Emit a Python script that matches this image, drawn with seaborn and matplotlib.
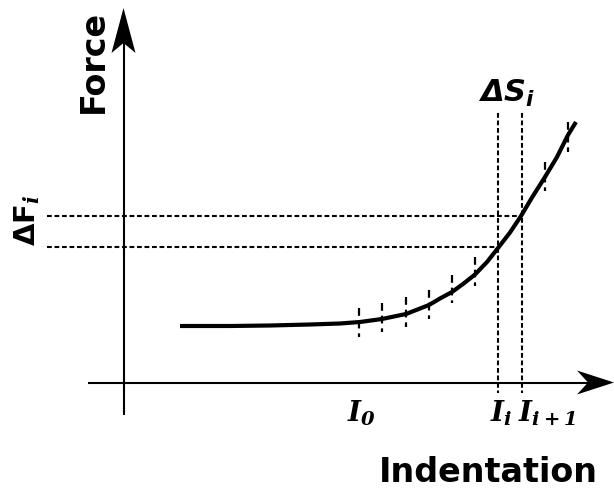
import numpy as np
import pandas as pd
import matplotlib
matplotlib.use("Agg")
import matplotlib.pyplot as plt
import seaborn as sns
from matplotlib.patches import Polygon

# ---- data (schematic units, y grows downward like the picture) ----
curve_x = [180, 230, 270, 310, 340, 360, 382, 406, 429, 440, 452, 463, 475,
           487, 498, 510, 521, 532, 545, 557, 568, 576]
curve_y = [326, 326, 325.5, 324.5, 323.5, 322, 319, 314, 305, 298.5, 292, 284, 274.5,
           262, 248, 232.5, 216, 197.5, 177, 157, 135, 122]
err_x = [359, 382, 406, 429, 452, 475, 545, 568]
err_lo = [308, 303, 297, 290, 275, 257, 162, 122]
err_hi = [337, 332, 327, 319, 303, 286, 191, 152]
step_x = [498, 522]          # I_i, I_{i+1}
step_f = [247, 216]          # force at I_i, I_{i+1}
tick_x = [347, 490, 518]     # left edge of each label
tick_labels = [r"$I_0$", r"$I_i$", r"$I_{i+1}$"]

sns.set_style("white")
plt.rcParams["font.family"] = ["DejaVu Sans"]
plt.rcParams["text.color"] = "black"
plt.rcParams["mathtext.fontset"] = "custom"
plt.rcParams["mathtext.it"] = "DejaVu Serif:italic:bold"
plt.rcParams["mathtext.rm"] = "DejaVu Serif:italic:bold"
plt.rcParams["mathtext.bf"] = "DejaVu Sans:bold"
plt.rcParams["mathtext.sf"] = "DejaVu Sans:italic:bold"

fig = plt.figure(figsize=(6.14, 5.0), dpi=100)
ax = fig.add_axes([0, 0, 1, 1])
ax.set_xlim(0, 614)
ax.set_ylim(500, 0)
ax.axis("off")

# axes with arrows
ax.plot([123.5, 123.5], [415, 40], color="black", lw=1.5, solid_capstyle="butt")
ax.add_patch(Polygon([(123.5, 8), (111.5, 53), (123.5, 43), (135.5, 53)],
                     closed=True, color="black", lw=0))
ax.plot([88, 595], [382.5, 382.5], color="black", lw=1.5, solid_capstyle="butt")
ax.add_patch(Polygon([(614, 382.5), (577, 370.5), (588, 382.5), (577, 394.5)],
                     closed=True, color="black", lw=0))

# dashed guides
dash = (0, (2.3, 1.3))
for xv, fv in zip(step_x, step_f):
    ax.plot([47, xv], [fv, fv], color="black", lw=1.5, linestyle=dash)
    ax.plot([xv, xv], [113, 393], color="black", lw=1.5, linestyle=dash)

# error ticks
ax.vlines(err_x, err_lo, err_hi, colors="black", lw=1.6, linestyles=[(0, (3.5, 2.2))])

# curve
df = pd.DataFrame({"x": curve_x, "y": curve_y})
sns.lineplot(data=df, x="x", y="y", ax=ax, color="black", lw=3, sort=False,
             solid_capstyle="butt", solid_joinstyle="round")
ax.set_xlabel("")
ax.set_ylabel("")

# texts
ax.text(93, 61, "Force", rotation=90, ha="center", va="center",
        fontsize=24, fontweight="bold", color="black")
ax.text(488, 473, "Indentation", ha="center", va="center",
        fontsize=24, fontweight="bold", color="black")
ax.text(27, 220, r"$\mathbf{\Delta F}_{i}$", rotation=90, ha="center", va="center",
        fontsize=21, color="black")
ax.text(507, 93, r"$\mathsf{\Delta S_{i}}$", ha="center", va="center", fontsize=22,
        color="black")
for tx, tl in zip(tick_x, tick_labels):
    ax.text(tx, 421, tl, ha="left", va="baseline", fontsize=20, color="black")

fig.savefig("out.png", dpi=100)
